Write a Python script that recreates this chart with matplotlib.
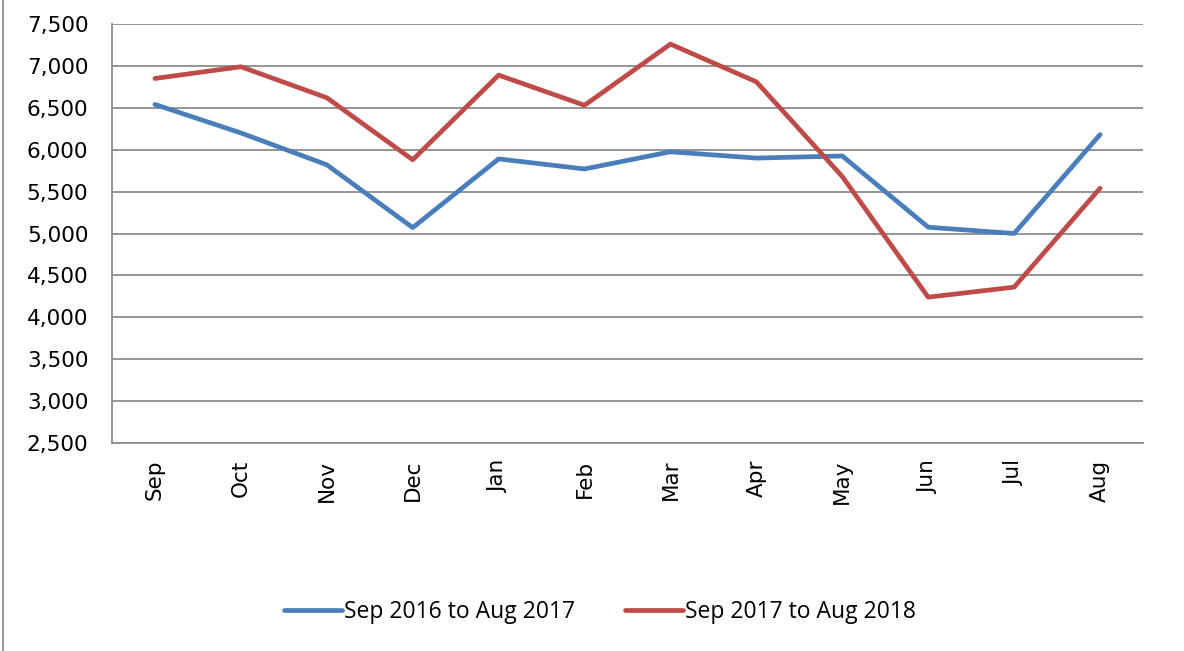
import matplotlib
matplotlib.use("Agg")
import matplotlib.pyplot as plt
from matplotlib.lines import Line2D

months = ["Sep", "Oct", "Nov", "Dec", "Jan", "Feb", "Mar", "Apr", "May", "Jun", "Jul", "Aug"]
series_2016_17 = [6540, 6200, 5820, 5070, 5890, 5770, 5975, 5900, 5925, 5075, 5000, 6180]
series_2017_18 = [6850, 6990, 6620, 5880, 6890, 6530, 7260, 6810, 5680, 4240, 4360, 5540]
label_a = "Sep 2016 to Aug 2017"
label_b = "Sep 2017 to Aug 2018"
yticks = [2500, 3000, 3500, 4000, 4500, 5000, 5500, 6000, 6500, 7000, 7500]

plt.rcParams['font.family'] = ['DejaVu Sans']

fig = plt.figure(figsize=(11.84, 6.51), dpi=100)
W, H = 1184, 651
ax = fig.add_axes([112 / W, 1 - 443 / H, (1143 - 112) / W, (443 - 24) / H])

x = list(range(len(months)))
ax.plot(x, series_2016_17, color="#4A7EBB", lw=3.4, solid_capstyle="round", label=label_a, zorder=3)
ax.plot(x, series_2017_18, color="#BE4B48", lw=3.4, solid_capstyle="round", label=label_b, zorder=3)

ax.set_xlim(-0.5, len(months) - 0.5)
ax.set_ylim(2500, 7500)
ax.set_yticks(yticks)
ax.set_yticklabels([f"{v:,}" for v in yticks], fontsize=15.5)
ax.set_xticks(x)
ax.set_xticklabels(months, rotation=90, fontsize=15.5)
ax.tick_params(axis="y", length=0, pad=17)
ax.tick_params(axis="x", length=0, pad=12)
ax.grid(axis="y", color="#8C8C8C", lw=1.3)
ax.set_axisbelow(True)
for s in ["top", "right"]:
    ax.spines[s].set_visible(False)
for s in ["left", "bottom"]:
    ax.spines[s].set_color("#8C8C8C")
    ax.spines[s].set_linewidth(1.3)

leg = fig.legend(loc="center", bbox_to_anchor=(600 / W, 1 - 612 / H), ncol=2, frameon=False,
                 handlelength=2.5, handletextpad=0.1, columnspacing=2.2,
                 prop={"family": "Open Sans", "size": 16.5})

fig.add_artist(Line2D([3 / W, 3 / W], [0, 1], color="#8C8C8C", lw=1.3, transform=fig.transFigure))

fig.savefig("out.png", dpi=100, facecolor="white")
